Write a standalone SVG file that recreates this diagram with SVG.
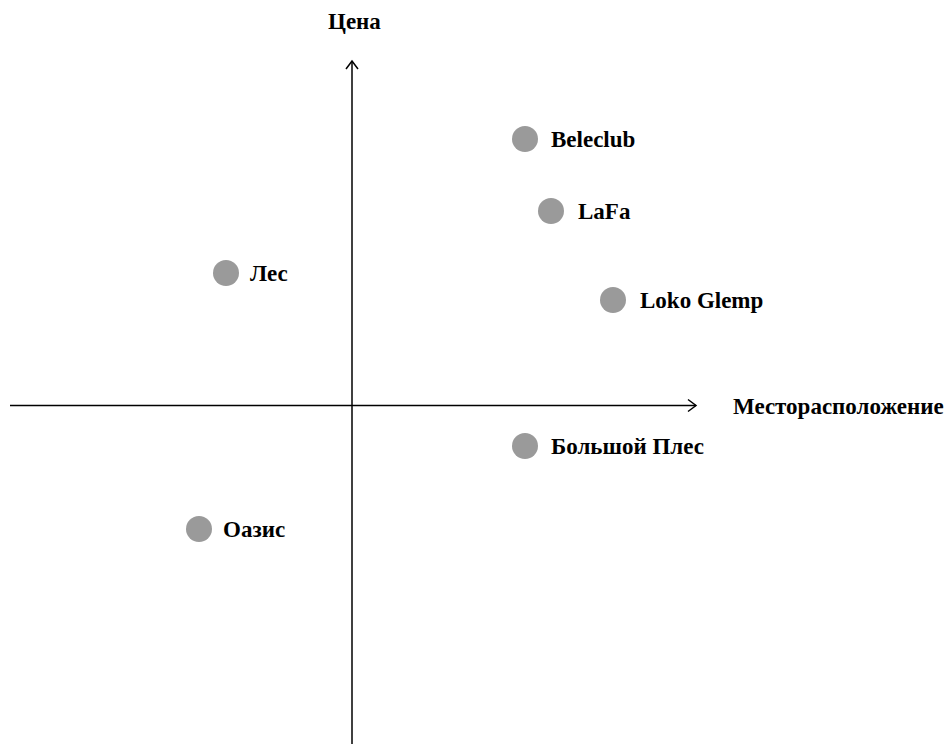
<svg xmlns="http://www.w3.org/2000/svg" width="951" height="744" viewBox="0 0 951 744">
<style>
.t{font-family:"Liberation Serif","Times New Roman",serif;font-weight:bold;font-size:23px;fill:#000}
.d{fill:#9a9a9a}
.ax{stroke:#000;stroke-width:1.5;fill:none}
</style>
<rect width="951" height="744" fill="#fff"/>
<g id="connectors">
<line class="ax" x1="10" y1="405.5" x2="696" y2="405.5"/>
<polyline class="ax" points="688,399.5 696,405.5 688,411.5"/>
<line class="ax" x1="352" y1="744" x2="352" y2="61"/>
<polyline class="ax" points="346,69 352,61 358,69"/>
</g>
<g id="axis-y-label"><text class="t" x="328" y="29">Цена</text></g>
<g id="axis-x-label"><text class="t" x="733" y="414">Месторасположение</text></g>
<g id="beleclub"><circle class="d" cx="525" cy="139" r="13"/><text class="t" x="551" y="147">Beleclub</text></g>
<g id="lafa"><circle class="d" cx="551" cy="211" r="13"/><text class="t" x="578" y="219">LaFa</text></g>
<g id="loko"><circle class="d" cx="613" cy="300" r="13"/><text class="t" x="640" y="308">Loko Glemp</text></g>
<g id="les"><circle class="d" cx="226" cy="273" r="13"/><text class="t" x="250" y="281">Лес</text></g>
<g id="bplyos"><circle class="d" cx="525" cy="446" r="13"/><text class="t" x="551" y="454">Большой Плес</text></g>
<g id="oazis"><circle class="d" cx="199" cy="529" r="13"/><text class="t" x="223" y="537">Оазис</text></g>
</svg>
